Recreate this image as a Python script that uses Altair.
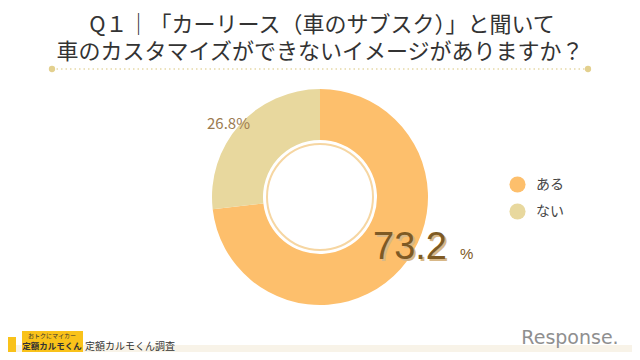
import altair as alt
import pandas as pd

# ---- data ----
categories = ["ある", "ない"]
values = [73.2, 26.8]
slice_order = [0, 1]
small_labels = ["", "26.8%"]
colors = ["#FDBF6C", "#E8D89E"]
big_value = "73.2"
title_lines = ["Q１｜「カーリース（車のサブスク）」と聞いて", "車のカスタマイズができないイメージがありますか？"]
source_text = "定額カルモくん調査"
brand_text = "Response."

W, H = 624, 344
CX, CY = 312, 189
JP = "Noto Sans CJK JP"

df = pd.DataFrame({"cat": categories, "val": values, "ord": slice_order, "lab": small_labels})
base = alt.Chart(df)

color = alt.Color(
    "cat:N",
    scale=alt.Scale(domain=categories, range=colors),
    legend=alt.Legend(
        title=None, orient="none", legendX=501, legendY=168, padding=0,
        symbolType="circle", symbolSize=260, symbolStrokeWidth=0, symbolOpacity=1,
        labelFont=JP, labelFontSize=14, labelColor="#444444", labelOffset=10,
        rowPadding=10,
    ),
)
theta = alt.Theta("val:Q", stack=True)
order = alt.Order("ord:Q")

donut = base.mark_arc(radius=108, radius2=57).encode(
    theta=theta, color=color, order=order, x=alt.value(CX), y=alt.value(CY)
)

ring = alt.Chart(pd.DataFrame({"d": [0]})).mark_point(
    shape="circle", filled=False, stroke="#F6D6A2", strokeWidth=2, opacity=1, size=106 * 106
).encode(x=alt.value(CX), y=alt.value(CY))

small_lab = base.mark_text(radius=120, dx=-2, dy=7, font=JP, fontSize=15, color="#9C7B50").encode(
    theta=theta, order=order, text="lab:N", x=alt.value(CX), y=alt.value(CY)
)

one = pd.DataFrame({"d": [0]})
def txt(text, x, y, **kw):
    return alt.Chart(one).mark_text(text=text, **kw).encode(x=alt.value(x), y=alt.value(y))

big_shadow = txt(big_value, 367, 253, font="Liberation Sans", fontSize=38, color="#D8B888", align="left", baseline="alphabetic")
big = txt(big_value, 365, 251, font="Liberation Sans", fontSize=38, color="#7E5A24", align="left", baseline="alphabetic")
pct = txt("%", 452, 251, font="Liberation Sans", fontSize=15, color="#7E5A24", align="left", baseline="alphabetic")

t1 = txt(title_lines[0], 314, 17, font=JP, fontSize=22, color="#333333", align="center", baseline="middle")
t2 = txt(title_lines[1], 312, 44, font=JP, fontSize=22, color="#333333", align="center", baseline="middle")

dots = alt.Chart(one).mark_rule(strokeDash=[1.5, 3], color="#E6D9A8", strokeWidth=1.5).encode(
    x=alt.value(44), x2=alt.value(580), y=alt.value(61)
)
end_dots = alt.Chart(pd.DataFrame({"x": [44, 580]})).mark_point(
    filled=True, color="#E3D08E", size=40, opacity=1
).encode(x=alt.X("x:Q", scale=None), y=alt.value(61))

bottom_band = alt.Chart(one).mark_rect(color="#F8F3E8").encode(
    x=alt.value(0), x2=alt.value(W), y=alt.value(337), y2=alt.value(H)
)
logo_box = alt.Chart(one).mark_rect(color="#F9C21A").encode(
    x=alt.value(14), x2=alt.value(75), y=alt.value(323), y2=alt.value(344)
)
logo_icon = alt.Chart(one).mark_rect(color="#F9C21A").encode(
    x=alt.value(-6), x2=alt.value(8), y=alt.value(329), y2=alt.value(344)
)
logo_small = txt("おトクにマイカー", 44, 328, font=JP, fontSize=6, color="#333333", align="center", baseline="middle")
logo_big = txt("定額カルモくん", 44, 338, font=JP, fontSize=8.5, fontWeight="bold", color="#333333", align="center", baseline="middle")
source = txt(source_text, 77, 342, font=JP, fontSize=10, color="#333333", align="left", baseline="alphabetic")
brand = txt(brand_text, 562, 336, font="DejaVu Sans", fontSize=19, color="#8F8F8F", align="center", baseline="alphabetic")

chart = alt.layer(
    bottom_band, dots, end_dots, t1, t2, donut, ring, small_lab, big_shadow, big, pct,
    logo_box, logo_icon, logo_small, logo_big, source, brand,
).properties(
    width=W, height=H, padding=0, autosize=alt.AutoSizeParams(type="none"), background="#FFFFFF"
).configure_view(stroke=None)

chart.save("out.html", embed_options={"renderer": "svg", "actions": False})
